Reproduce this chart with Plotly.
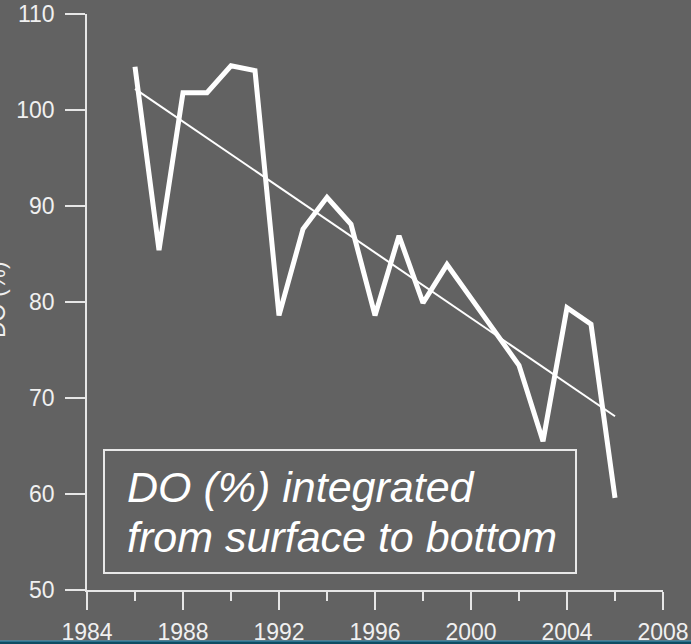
import plotly.graph_objects as go

years = [1986, 1987, 1988, 1989, 1990, 1991, 1992, 1993, 1994, 1995, 1996,
         1997, 1998, 1999, 2000, 2001, 2002, 2003, 2004, 2005, 2006]
do_pct = [104.5, 85.4, 101.8, 101.8, 104.6, 104.1, 78.6, 87.6, 90.9, 88.1, 78.6,
          86.9, 79.9, 83.9, 80.4, 76.9, 73.4, 65.5, 79.4, 77.7, 59.6]
trend_years = [1986, 2006]
trend_vals = [102.2, 68.1]

x_ticks = [1984, 1988, 1992, 1996, 2000, 2004, 2008]
y_ticks = [50, 60, 70, 80, 90, 100, 110]

BG = "#626262"
FG = "#f0f0f0"
FONT = "Liberation Sans, Arial, sans-serif"

fig = go.Figure()
fig.add_trace(go.Scatter(x=years, y=do_pct, mode="lines",
                         line=dict(color="white", width=5), showlegend=False))
fig.add_trace(go.Scatter(x=trend_years, y=trend_vals, mode="lines",
                         line=dict(color="white", width=2), showlegend=False))

W, H = 691, 644
L, R, T, B = 87, 28, 14, 54
PW, PH = W - L - R, H - T - B

def px(x):
    return (x - L) / PW

def py(y):
    return (H - B - y) / PH

BOX_FS = 43
def center_from_baseline(b, fs):
    return b - (0.905 - 0.212) / 2 * fs

fig.update_layout(
    template="none",
    width=W, height=H,
    margin=dict(l=L, r=R, t=T, b=B),
    paper_bgcolor=BG, plot_bgcolor=BG,
    font=dict(family=FONT, color=FG, size=23),
    xaxis=dict(range=[1984, 2008], tickvals=x_ticks, ticktext=[str(v) for v in x_ticks],
               automargin=False,
               showgrid=False, zeroline=False, showline=True, linecolor="#e6e6e6", linewidth=1.5,
               ticks="outside", ticklen=18, tickwidth=1.5, tickcolor="#e6e6e6",
               tickfont=dict(size=23, color=FG), ticklabelstandoff=3,
               minor=dict(dtick=2, tick0=1984, ticks="outside", ticklen=9, tickwidth=1.5,
                          tickcolor="#e6e6e6", showgrid=False)),
    yaxis=dict(range=[50, 110], tickvals=y_ticks, automargin=False,
               showgrid=False, zeroline=False, showline=True, linecolor="#e6e6e6", linewidth=1.5,
               ticks="outside", ticklen=20, tickwidth=1.5, tickcolor="#e6e6e6",
               tickfont=dict(size=23, color=FG), ticklabelstandoff=6),
    shapes=[
        dict(type="rect", xref="paper", yref="paper",
             x0=px(104), x1=px(576), y0=py(573), y1=py(450),
             line=dict(color="#e8e8e8", width=2), fillcolor="rgba(0,0,0,0)"),
        dict(type="rect", xref="paper", yref="paper",
             x0=px(0), x1=px(W), y0=py(H), y1=py(641),
             line=dict(width=0), fillcolor="#0f4c63"),
        dict(type="line", xref="paper", yref="paper",
             x0=px(0), x1=px(W), y0=py(641), y1=py(641),
             line=dict(color="#4a9cc0", width=1)),
    ],
    annotations=[
        dict(text="DO (%) integrated", xref="paper", yref="paper",
             x=px(125), y=py(center_from_baseline(502, BOX_FS)), xanchor="left", yanchor="middle",
             showarrow=False, font=dict(size=BOX_FS, color="white", family=FONT, style="italic")),
        dict(text="from surface to bottom", xref="paper", yref="paper",
             x=px(125), y=py(center_from_baseline(552, BOX_FS)), xanchor="left", yanchor="middle",
             showarrow=False, font=dict(size=BOX_FS, color="white", family=FONT, style="italic")),
        dict(text="DO (%)", xref="paper", yref="paper", x=px(-3), y=py(300),
             xanchor="center", yanchor="middle", textangle=-90, showarrow=False,
             font=dict(size=23, color=FG, family=FONT)),
    ],
)

fig.write_html("out.html", config={"displayModeBar": False},
               post_script="document.body.style.margin='0';document.body.style.overflow='hidden';")
